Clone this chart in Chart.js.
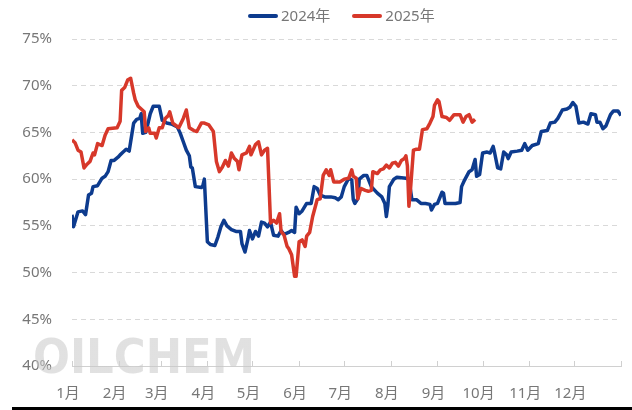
<!DOCTYPE html>
<html>
<head>
<meta charset="utf-8">
<script src="https://cdn.jsdelivr.net/npm/chart.js@4/dist/chart.umd.min.js"></script>
<style>
  body { margin: 0; background: #fff; font-family: "Noto Sans", "Noto Sans CJK SC", sans-serif; }
  #wrap { position: relative; width: 632px; height: 410px; }
  #legend { position: absolute; top: 4px; left: 248px; font-size: 15px; color: #777; white-space: nowrap; }
  #legend span.item { display: inline-block; margin-right: 22px; }
  #legend i { display: inline-block; width: 30px; height: 4px; border-radius: 2px; vertical-align: middle; margin-right: 3px; position: relative; top: -1px; }
  #bar { position: absolute; left: 12px; top: 407px; width: 620px; height: 3px; background: #000; }
</style>
</head>
<body>
<div id="wrap">
  <canvas id="chart" width="632" height="407"></canvas>
  <div id="legend"></div>
  <div id="bar"></div>
</div>
<script>
// 月份刻度（一年中的第几天）
var monthStarts = [0, 31, 59, 90, 120, 151, 181, 212, 243, 273, 304, 334, 365];
var monthLabels = ['1月', '2月', '3月', '4月', '5月', '6月', '7月', '8月', '9月', '10月', '11月', '12月', ''];

// 2024年
var days2024 = [0, 1, 4, 7, 9, 11, 13, 14, 17, 20, 22, 24, 26, 28, 31, 32, 34, 36, 38, 41, 43, 45, 46, 47, 49, 50, 52, 54, 58, 60,
  63, 66, 70, 72, 74, 76, 78, 79, 80, 82, 86, 87, 88, 90, 92, 95, 97, 99, 101, 103, 106, 109, 112, 113, 115, 117, 118, 120, 122, 124,
  126, 128, 130, 132, 134, 137, 139, 141, 144, 146, 148, 149, 151, 153, 156, 159, 161, 163, 165, 168, 172, 175, 177, 179, 181, 184, 186, 187, 188, 190,
  191, 194, 196, 197, 199, 203, 206, 208, 209, 210, 211, 214, 216, 222, 224, 226, 229, 232, 235, 238, 239, 241, 243, 246, 247, 248, 251, 255, 258, 259,
  261, 264, 266, 268, 269, 271, 273, 276, 278, 280, 281, 283, 285, 287, 289, 290, 292, 296, 299, 301, 303, 306, 310, 312, 316, 318, 321, 323, 326, 329,
  331, 333, 335, 337, 340, 343, 345, 348, 349, 351, 353, 355, 358, 360, 363, 365];
var rate2024 = [56.2, 54.9, 56.5, 56.6, 56.2, 58.3, 58.5, 59.2, 59.3, 60.1, 60.3, 60.8, 62.0, 62.0, 62.4, 62.6, 62.9, 63.2, 63.0, 66.0, 66.4, 66.5, 67.0, 64.9, 65.0, 65.6, 67.0, 67.8, 67.8, 66.3,
  66.0, 65.9, 65.6, 64.9, 64.0, 63.1, 62.5, 61.3, 61.2, 59.2, 59.1, 59.3, 60.0, 53.3, 53.0, 52.9, 53.8, 54.9, 55.6, 55.0, 54.6, 54.4, 54.4, 53.1, 52.2, 53.6, 54.5, 53.6, 54.4, 53.9,
  55.4, 55.3, 54.9, 55.4, 54.0, 53.9, 54.5, 54.1, 54.3, 54.5, 54.3, 57.0, 56.3, 56.6, 57.4, 57.4, 59.2, 59.0, 58.3, 58.1, 58.1, 58.0, 57.8, 58.1, 59.2, 60.1, 59.9, 57.8, 57.4, 57.9,
  60.0, 60.4, 60.4, 60.0, 59.2, 58.5, 58.1, 57.4, 56.0, 57.2, 59.2, 60.0, 60.2, 60.1, 60.0, 57.8, 57.8, 57.4, 57.4, 57.3, 56.7, 57.3, 57.4, 58.6, 58.5, 57.4, 57.4, 57.4, 57.5, 59.2,
  59.9, 60.8, 61.0, 62.1, 60.3, 60.5, 62.8, 62.9, 62.8, 63.5, 62.8, 61.2, 61.1, 62.9, 62.6, 62.2, 62.9, 63.0, 63.1, 63.8, 63.1, 63.6, 63.8, 65.1, 65.2, 66.0, 66.1, 66.5, 67.4, 67.5,
  67.7, 68.2, 67.8, 66.0, 66.1, 65.9, 67.0, 66.9, 66.1, 66.1, 65.4, 65.7, 66.9, 67.3, 67.3, 66.8];

// 2025年
var days2025 = [0, 2, 4, 6, 8, 10, 12, 14, 15, 17, 20, 22, 24, 30, 32, 33, 35, 37, 39, 41, 42, 44, 46, 48, 49, 51, 52, 55, 56, 58,
  60, 62, 64, 65, 67, 71, 74, 76, 78, 81, 83, 86, 88, 91, 94, 96, 98, 100, 102, 104, 106, 108, 110, 111, 113, 116, 118, 119, 122, 124,
  126, 128, 130, 132, 134, 136, 138, 139, 141, 143, 144, 146, 148, 149, 151, 153, 155, 156, 158, 160, 163, 165, 167, 169, 171, 172, 174, 178, 181, 184,
  186, 187, 189, 190, 192, 195, 197, 199, 200, 203, 205, 207, 209, 211, 213, 215, 217, 219, 221, 222, 223, 224, 225, 227, 229, 231, 233, 236, 238, 240,
  241, 243, 244, 246, 249, 251, 254, 258, 260, 262, 264, 266, 268];
var rate2025 = [64.2, 63.9, 63.1, 62.9, 61.2, 61.6, 61.9, 62.8, 62.6, 63.8, 63.6, 64.7, 65.4, 65.5, 66.2, 69.5, 69.8, 70.6, 70.8, 69.2, 68.5, 67.8, 67.5, 67.2, 65.1, 65.5, 64.9, 64.9, 64.4, 65.5,
  65.5, 66.5, 66.8, 67.2, 66.0, 65.5, 66.5, 67.4, 65.5, 65.2, 65.1, 66.0, 66.0, 65.8, 65.1, 61.9, 60.8, 61.3, 62.0, 61.4, 62.8, 62.2, 61.9, 61.0, 62.6, 62.8, 63.5, 62.6, 63.7, 64.0,
  62.6, 63.1, 63.3, 55.3, 55.6, 55.3, 56.3, 54.4, 54.0, 52.8, 52.6, 51.9, 49.6, 49.6, 53.3, 53.5, 52.8, 53.9, 54.3, 56.0, 57.8, 57.9, 60.4, 61.0, 60.4, 61.0, 59.7, 59.7, 60.0, 60.1,
  61.0, 60.3, 60.1, 57.9, 59.0, 58.8, 58.7, 58.8, 60.8, 60.6, 61.0, 61.1, 61.5, 61.2, 61.7, 61.8, 61.4, 62.0, 62.2, 62.5, 61.4, 57.1, 58.8, 63.1, 63.2, 63.2, 65.3, 65.4, 66.0, 66.7,
  67.9, 68.5, 68.3, 66.7, 66.6, 66.3, 66.9, 66.9, 66.1, 66.7, 66.9, 66.1, 66.4];

function toPoints(days, vals) {
  return days.map(function (d, i) { return { x: d, y: vals[i] }; });
}

var FONT = '"Noto Sans", "Noto Sans CJK SC", sans-serif';
var GREY = '#777777';

// 水印
var watermark = {
  id: 'watermark',
  beforeDatasetsDraw: function (chart) {
    var ctx = chart.ctx;
    ctx.save();
    ctx.font = 'bold 48px "DejaVu Sans"';
    var w = ctx.measureText('OILCHEM').width;
    var g = ctx.createLinearGradient(0, 337, 0, 375);
    g.addColorStop(0, 'rgba(200,200,200,0.55)');
    g.addColorStop(1, 'rgba(240,240,240,0.4)');
    ctx.fillStyle = g;
    ctx.textBaseline = 'alphabetic';
    ctx.translate(33, 373);
    ctx.scale(222 / w, 1);
    ctx.fillText('OILCHEM', 0, 0);
    ctx.restore();
  }
};

// 向上的刻度线
var upTicks = {
  id: 'upTicks',
  afterDraw: function (chart) {
    var ctx = chart.ctx, xs = chart.scales.x, b = chart.chartArea.bottom;
    ctx.save();
    ctx.strokeStyle = '#d0d0d0';
    ctx.lineWidth = 1;
    monthStarts.forEach(function (d) {
      var px = Math.round(xs.getPixelForValue(d)) + 0.5;
      ctx.beginPath();
      ctx.moveTo(px, b - 5);
      ctx.lineTo(px, b);
      ctx.stroke();
    });
    ctx.restore();
  }
};

var datasets = [
  { label: '2024年', data: toPoints(days2024, rate2024), borderColor: '#0d3b8e', backgroundColor: '#0d3b8e', order: 1 },
  { label: '2025年', data: toPoints(days2025, rate2025), borderColor: '#d7382a', backgroundColor: '#d7382a', order: 0 }
];
datasets.forEach(function (ds) {
  ds.borderWidth = 3.5;
  ds.pointRadius = 0;
  ds.tension = 0;
  ds.borderJoinStyle = 'round';
  ds.fill = false;
});

// 图例
var legendEl = document.getElementById('legend');
datasets.forEach(function (ds) {
  var item = document.createElement('span');
  item.className = 'item';
  item.innerHTML = '<i style="background:' + ds.borderColor + '"></i>' + ds.label;
  legendEl.appendChild(item);
});

new Chart(document.getElementById('chart').getContext('2d'), {
  type: 'line',
  data: { datasets: datasets },
  plugins: [watermark, upTicks],
  options: {
    responsive: false,
    animation: false,
    events: [],
    layout: { padding: { top: 39, left: 18, right: 11, bottom: 2 } },
    plugins: { legend: { display: false }, tooltip: { enabled: false } },
    scales: {
      x: {
        type: 'linear',
        min: 0,
        max: 365,
        afterBuildTicks: function (scale) {
          scale.ticks = monthStarts.map(function (v) { return { value: v }; });
        },
        afterFit: function (scale) {
          scale.height = 39;
          scale.paddingLeft = 0;
          scale.paddingRight = 0;
        },
        ticks: {
          autoSkip: false,
          maxRotation: 0,
          padding: 19,
          labelOffset: -4,
          color: GREY,
          font: { family: FONT, size: 15 },
          callback: function (v) { return monthLabels[monthStarts.indexOf(v)]; }
        },
        grid: { drawOnChartArea: false, drawTicks: false },
        border: { color: '#d0d0d0', width: 1 }
      },
      y: {
        min: 40,
        max: 75,
        afterFit: function (scale) { scale.width = 54; },
        ticks: {
          stepSize: 5,
          padding: 20,
          color: GREY,
          font: { family: FONT, size: 15 },
          callback: function (v) { return v + '%'; }
        },
        grid: { color: '#d9d9d9', lineWidth: 1, drawTicks: false },
        border: { display: false, dash: [5, 4] }
      }
    }
  }
});
</script>
</body>
</html>
